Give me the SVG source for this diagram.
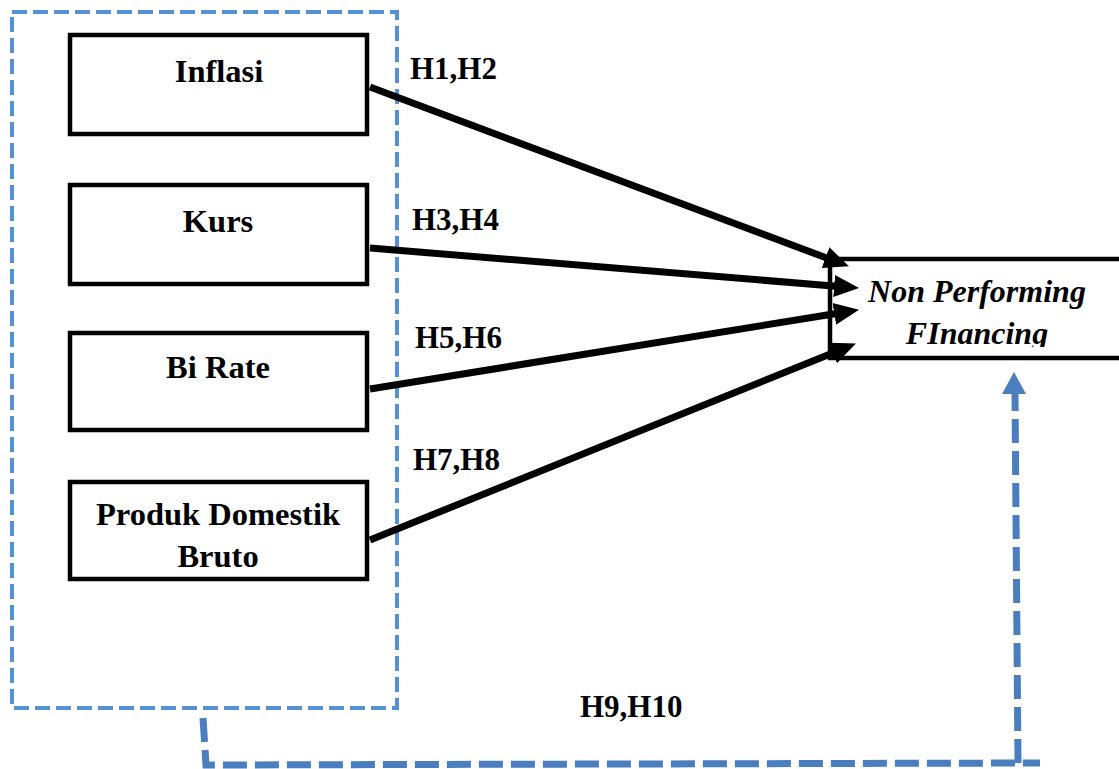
<svg xmlns="http://www.w3.org/2000/svg" width="1119" height="769" viewBox="0 0 1119 769">
<style>
.box{fill:#fff;stroke:#000;stroke-width:4.5}
.lbl{font-family:"Liberation Serif","Times New Roman",serif;font-weight:bold;font-size:32.5px;fill:#000;text-anchor:middle}
.hl{font-family:"Liberation Serif","Times New Roman",serif;font-weight:bold;font-size:31px;fill:#000}
.npf{font-family:"Liberation Serif","Times New Roman",serif;font-weight:bold;font-style:italic;font-size:32px;fill:#000;text-anchor:middle}
.arr{stroke:#000;stroke-width:7;fill:none}
.grp{fill:none;stroke:#5591D6;stroke-width:4;stroke-dasharray:15 6}
.med{fill:none;stroke:#4A7EBF;stroke-width:7;stroke-dasharray:24 8}
</style>
<defs>
<marker id="ah" markerUnits="userSpaceOnUse" markerWidth="26" markerHeight="24" viewBox="0 0 26 24" refX="2" refY="12" orient="auto">
<path d="M0,1 L25,12 L0,23 z" fill="#000"/>
</marker>
<clipPath id="npfclip"><rect x="830" y="255" width="289" height="92"/></clipPath>
</defs>
<rect width="1119" height="769" fill="#fff"/>

<g id="group-box">
<rect class="grp" x="12" y="12" width="385" height="696"/>
</g>

<g id="inflasi">
<rect class="box" x="70" y="35" width="297" height="99"/>
<text class="lbl" x="219" y="82">Inflasi</text>
</g>
<g id="kurs">
<rect class="box" x="70" y="185" width="297" height="99"/>
<text class="lbl" x="218" y="232">Kurs</text>
</g>
<g id="birate">
<rect class="box" x="70" y="333" width="297" height="97"/>
<text class="lbl" x="218" y="378">Bi Rate</text>
</g>
<g id="pdb">
<rect class="box" x="70" y="482" width="297" height="97"/>
<text class="lbl" x="218" y="525">Produk Domestik</text>
<text class="lbl" x="218" y="567">Bruto</text>
</g>

<g id="npf">
<rect class="box" x="830" y="259" width="400" height="99"/>
<g clip-path="url(#npfclip)">
<text class="npf" x="977" y="302">Non Performing</text>
<text class="npf" x="977" y="344">FInancing</text>
</g>
</g>

<g id="connectors">
<line class="arr" x1="370" y1="87" x2="827.4" y2="258.3" marker-end="url(#ah)"/>
<line class="arr" x1="370" y1="248" x2="836.1" y2="286.2" marker-end="url(#ah)"/>
<line class="arr" x1="370" y1="389" x2="836.3" y2="313.5" marker-end="url(#ah)"/>
<line class="arr" x1="370" y1="540" x2="834.6" y2="352.2" marker-end="url(#ah)"/>
<path class="med" d="M203,718 L206,765 L1040,763"/>
<path class="med" d="M1018,763 L1015,394"/>
<polygon points="1014,372 1026,394 1002,394" fill="#4A7EBF"/>
</g>

<g id="labels">
<text class="hl" x="410" y="79">H1,H2</text>
<text class="hl" x="412" y="230">H3,H4</text>
<text class="hl" x="415" y="348">H5,H6</text>
<text class="hl" x="413" y="470">H7,H8</text>
<text class="hl" x="580" y="717">H9,H10</text>
</g>
</svg>
